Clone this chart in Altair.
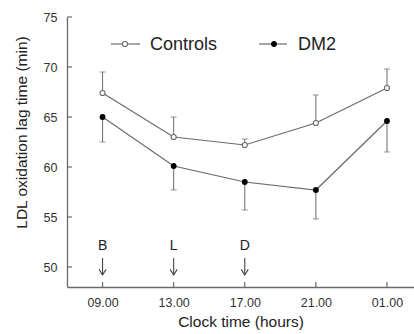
import altair as alt
import pandas as pd

hours = ["09.00", "13.00", "17.00", "21.00", "01.00"]
controls_mean = [67.4, 63.0, 62.2, 64.4, 67.9]
controls_err = [2.1, 2.0, 0.6, 2.8, 1.9]
dm2_mean = [65.0, 60.1, 58.5, 57.7, 64.6]
dm2_err = [2.5, 2.4, 2.8, 2.9, 3.1]
meal_labels = ["B", "L", "D"]
meal_idx = [0, 1, 2]
y_ticks = [50, 55, 60, 65, 70, 75]

FONT = "Liberation Sans"
GRAY = "#6a6a6a"

idx = list(range(len(hours)))
ctrl = pd.DataFrame({"idx": idx, "mean": controls_mean,
                     "end": [m + e for m, e in zip(controls_mean, controls_err)]})
dm2 = pd.DataFrame({"idx": idx, "mean": dm2_mean,
                    "end": [m - e for m, e in zip(dm2_mean, dm2_err)]})
meals = pd.DataFrame({"idx": meal_idx, "label": meal_labels})
yt = pd.DataFrame({"v": y_ticks})
xt = pd.DataFrame({"idx": idx})

label_expr = "[" + ",".join("'%s'" % h for h in hours) + "][datum.value]"

xs = alt.Scale(domain=[-0.5, 4.38], nice=False, zero=False)
ys = alt.Scale(domain=[48, 75], nice=False, zero=False)

X = alt.X("idx:Q", scale=xs, axis=alt.Axis(
    values=idx, labelExpr=label_expr, ticks=False, grid=False,
    title="Clock time (hours)", labelPadding=9, titlePadding=6,
    labelFontSize=12.5, titleFontSize=15.5, labelFont=FONT, titleFont=FONT,
    labelColor="#333", titleColor="#222", domainColor=GRAY, domainWidth=1.3,
    titleFontWeight="normal"))
Y = alt.Y("mean:Q", scale=ys, axis=alt.Axis(
    values=y_ticks, ticks=False, grid=False,
    title="LDL oxidation lag time (min)", labelPadding=10,
    titleX=-38, titleY=115,
    labelFontSize=12.5, titleFontSize=15.5, labelFont=FONT, titleFont=FONT,
    labelColor="#333", titleColor="#222", domainColor=GRAY, domainWidth=1.3,
    titleFontWeight="normal"))

def xq():
    return alt.X("idx:Q", scale=xs)

layers = []
base_c = alt.Chart(ctrl)
layers.append(base_c.mark_line(color=GRAY, strokeWidth=1.2).encode(x=X, y=Y))
layers.append(base_c.mark_rule(color=GRAY, strokeWidth=1).encode(
    x=xq(), y=alt.Y("mean:Q", scale=ys), y2="end:Q"))
layers.append(base_c.mark_point(shape="stroke", size=36, color=GRAY, strokeWidth=1).encode(
    x=xq(), y=alt.Y("end:Q", scale=ys)))

base_d = alt.Chart(dm2)
layers.append(base_d.mark_line(color=GRAY, strokeWidth=1.2).encode(
    x=xq(), y=alt.Y("mean:Q", scale=ys)))
layers.append(base_d.mark_rule(color=GRAY, strokeWidth=1).encode(
    x=xq(), y=alt.Y("mean:Q", scale=ys), y2="end:Q"))
layers.append(base_d.mark_point(shape="stroke", size=36, color=GRAY, strokeWidth=1).encode(
    x=xq(), y=alt.Y("end:Q", scale=ys)))

layers.append(base_c.mark_point(shape="circle", size=26, filled=True, fill="white",
                                stroke=GRAY, strokeWidth=1.1, opacity=1).encode(
    x=xq(), y=alt.Y("mean:Q", scale=ys)))
layers.append(base_d.mark_point(shape="circle", size=34, filled=True, fill="black",
                                opacity=1).encode(
    x=xq(), y=alt.Y("mean:Q", scale=ys)))

layers.append(alt.Chart(yt).mark_rule(color=GRAY, strokeWidth=1.2).encode(
    y=alt.Y("v:Q", scale=ys), x=alt.value(0), x2=alt.value(5)))
layers.append(alt.Chart(xt).mark_rule(color=GRAY, strokeWidth=1.2).encode(
    x=xq(), y=alt.value(270), y2=alt.value(265)))

bm = alt.Chart(meals)
layers.append(bm.mark_text(font=FONT, fontSize=14, color="#222", baseline="middle").encode(
    x=xq(), y=alt.datum(52.1), text="label:N"))
layers.append(bm.mark_rule(color="#444", strokeWidth=1.1).encode(
    x=xq(), y=alt.datum(50.9), y2=alt.datum(49.25)))
layers.append(bm.mark_point(shape="M-1,-1.6L0,0L1,-1.6", size=49, filled=False,
                            color="#444", strokeWidth=1.1, opacity=1).encode(
    x=xq(), y=alt.datum(49.2)))

leg = pd.DataFrame({"s": ["Controls"]})
leg2 = pd.DataFrame({"s": ["DM2"]})
LY = 27
layers.append(alt.Chart(leg).mark_rule(color=GRAY, strokeWidth=1.2).encode(
    x=alt.value(44), x2=alt.value(73), y=alt.value(LY)))
layers.append(alt.Chart(leg).mark_point(shape="circle", size=26, filled=True, fill="white",
                                        stroke=GRAY, strokeWidth=1.1, opacity=1).encode(
    x=alt.value(58), y=alt.value(LY)))
layers.append(alt.Chart(leg).mark_text(font=FONT, fontSize=18, color="#222", align="left",
                                       baseline="middle").encode(
    x=alt.value(83), y=alt.value(LY + 1), text="s:N"))
layers.append(alt.Chart(leg2).mark_rule(color=GRAY, strokeWidth=1.2).encode(
    x=alt.value(192), x2=alt.value(220), y=alt.value(LY)))
layers.append(alt.Chart(leg2).mark_point(shape="circle", size=34, filled=True, fill="black",
                                         opacity=1).encode(
    x=alt.value(207), y=alt.value(LY)))
layers.append(alt.Chart(leg2).mark_text(font=FONT, fontSize=18, color="#222", align="left",
                                        baseline="middle").encode(
    x=alt.value(231), y=alt.value(LY + 1), text="s:N"))

chart = alt.layer(*layers).properties(
    width=347, height=270,
    padding={"left": 67, "top": 17, "right": 0, "bottom": 47},
    autosize=alt.AutoSizeParams(type="none"),
    background="white",
).configure_view(stroke=None)

chart.save("out.html", embed_options={"renderer": "svg", "actions": False})
